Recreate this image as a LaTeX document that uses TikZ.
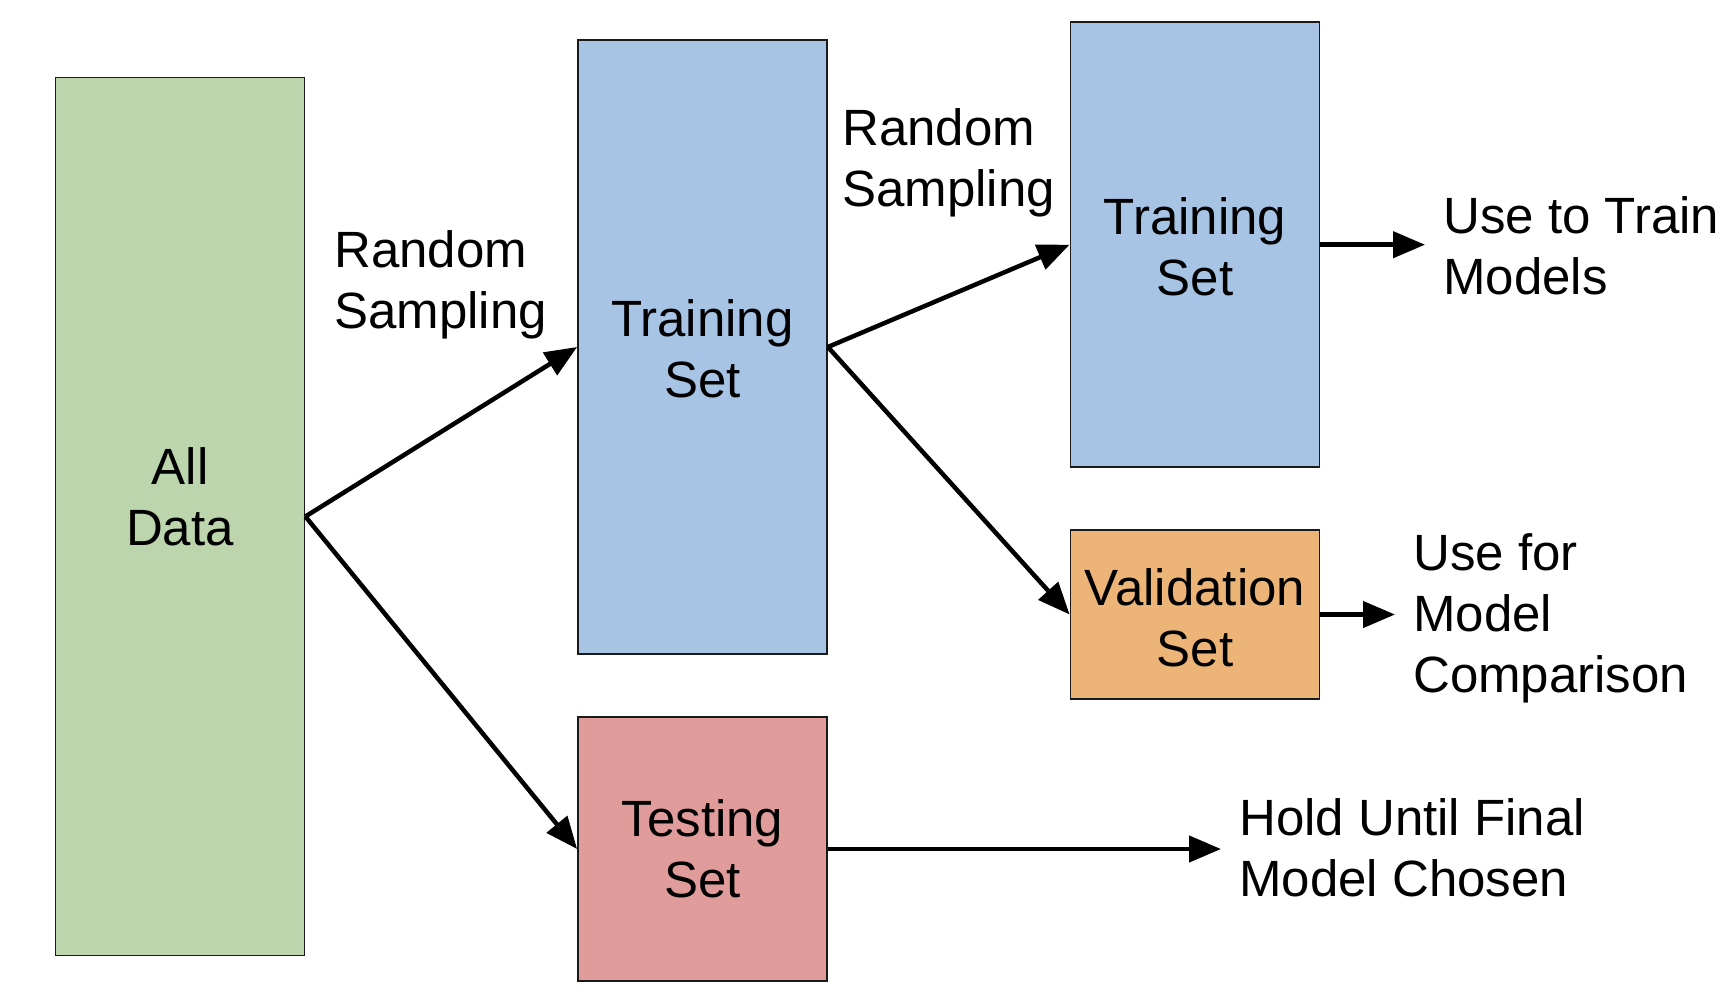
\documentclass[tikz,border=0pt]{standalone}
\usepackage{fontspec}
\setmainfont{Liberation Sans}
\usetikzlibrary{arrows.meta}
\definecolor{cgreen}{HTML}{BDD5AC}
\definecolor{cblue}{HTML}{A7C4E4}
\definecolor{corange}{HTML}{EDB477}
\definecolor{cred}{HTML}{E09C9B}
\definecolor{cborder}{HTML}{1A1A1A}
\begin{document}
\begin{tikzpicture}[x=1pt,y=-1pt,
  box/.style={draw=cborder, line width=1.8pt, inner sep=0pt, rectangle, minimum width=249pt},
  txt/.style={inner sep=0pt, font=\fontsize{51}{61}\selectfont, anchor=base},
  ltxt/.style={txt, anchor=base west},
  arr/.style={line width=4.5pt, -{Triangle[length=32pt,width=26pt]}}]
\useasboundingbox (0,0) rectangle (1736,1002);

% boxes
\node[box, fill=cgreen, minimum height=878pt] (all) at (180,516.5) {};
\node[box, fill=cblue, minimum height=614pt] (trainM) at (702.5,347) {};
\node[box, fill=cred, minimum height=263.6pt] (test) at (702.5,849) {};
\node[box, fill=cblue, minimum height=445pt] (trainR) at (1195,244.7) {};
\node[box, fill=corange, minimum height=168.3pt] (valid) at (1195,614.5) {};

% box texts
\node[txt] (allT) at (180,484) {\begin{tabular}[t]{@{}c@{}}All\\Data\end{tabular}};
\node[txt] (trainMT) at (702.5,336) {\begin{tabular}[t]{@{}c@{}}Training\\Set\end{tabular}};
\node[txt] (testT) at (702.5,836) {\begin{tabular}[t]{@{}c@{}}Testing\\Set\end{tabular}};
\node[txt] (trainRT) at (1195,234) {\begin{tabular}[t]{@{}c@{}}Training\\Set\end{tabular}};
\node[txt] (validT) at (1195,605.5) {\begin{tabular}[t]{@{}c@{}}Validation\\Set\end{tabular}};

% free texts
\node[ltxt] (rs1) at (334,267) {\begin{tabular}[t]{@{}l@{}}Random\\Sampling\end{tabular}};
\node[ltxt] (rs2) at (842,145) {\begin{tabular}[t]{@{}l@{}}Random\\Sampling\end{tabular}};
\node[ltxt] (useT) at (1443,233.5) {\begin{tabular}[t]{@{}l@{}}Use to Train\\Models\end{tabular}};
\node[ltxt] (useF) at (1413,570) {\begin{tabular}[t]{@{}l@{}}Use for\\Model\\Comparison\end{tabular}};
\node[ltxt] (hold) at (1239,835) {\begin{tabular}[t]{@{}l@{}}Hold Until Final\\Model Chosen\end{tabular}};

% connectors
\draw[arr] (all.east) -- (trainM.west);
\draw[arr] (all.east) -- (test.west);
\draw[arr] (trainM.east) -- (trainR.west);
\draw[arr] (trainM.east) -- (valid.west);
\draw[arr] (trainR.east) -- ([xshift=-18pt]useT.west |- trainR.east);
\draw[arr] (valid.east) -- ([xshift=-18pt]useF.west |- valid.east);
\draw[arr] (test.east) -- ([xshift=-18pt]hold.west |- test.east);
\end{tikzpicture}
\end{document}
